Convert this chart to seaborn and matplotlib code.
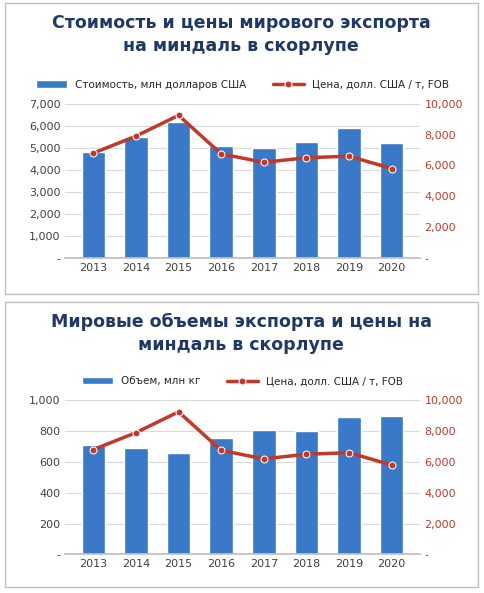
import matplotlib
matplotlib.use("Agg")
import matplotlib.pyplot as plt
import matplotlib.ticker as mticker
from matplotlib.patches import FancyBboxPatch
import seaborn as sns
import pandas as pd

years = ["2013", "2014", "2015", "2016", "2017", "2018", "2019", "2020"]
value_musd = [4800, 5500, 6150, 5100, 5000, 5250, 5900, 5200]
volume_mkg = [710, 690, 660, 755, 805, 800, 890, 895]
price_usd_t = [6800, 7900, 9250, 6750, 6200, 6500, 6600, 5800]

sns.set_theme(style="white")
plt.rcParams['font.family'] = ['DejaVu Sans']

BLUE = "#3a78c8"
RED = "#c0392b"
TITLE = "#1f3864"


def fmt(v, _):
    return "-" if v == 0 else f"{int(v):,}"


def panel(fig, rect, frame, title, bars, bar_label, ymax, ystep):
    fig.patches.append(FancyBboxPatch((frame[0], frame[1]), frame[2], frame[3],
                                      boxstyle="square,pad=0", transform=fig.transFigure,
                                      fc="white", ec="#bfbfbf", lw=1, zorder=-1))
    fig.text(frame[0] + frame[2] / 2, frame[1] + frame[3] - 0.018, title, ha="center", va="top",
             fontsize=12.5, fontweight="bold", color=TITLE, linespacing=1.35)
    ax = fig.add_axes(rect)
    df = pd.DataFrame({"year": years, "bars": bars, "price": price_usd_t})
    sns.barplot(data=df, x="year", y="bars", color=BLUE, width=0.55, ax=ax,
                label=bar_label, saturation=1)
    ax.set_ylim(0, ymax)
    ax.yaxis.set_major_locator(mticker.MultipleLocator(ystep))
    ax.yaxis.set_major_formatter(mticker.FuncFormatter(fmt))
    ax.grid(axis="y", color="#d9d9d9", lw=0.8)
    ax.set_axisbelow(True)
    ax.set_xlabel("")
    ax.set_ylabel("")
    for s in ax.spines.values():
        s.set_visible(False)
    ax.spines["bottom"].set_visible(True)
    ax.spines["bottom"].set_color("#bfbfbf")
    ax.tick_params(labelsize=8, colors="#404040", length=0)
    ax2 = ax.twinx()
    sns.lineplot(x=list(range(len(years))), y=price_usd_t, ax=ax2, color=RED, lw=2.5,
                 marker="o", markersize=5, label="Цена, долл. США / т, FOB")
    ax2.set_ylim(0, 10000)
    ax2.yaxis.set_major_locator(mticker.MultipleLocator(2000))
    ax2.yaxis.set_major_formatter(mticker.FuncFormatter(fmt))
    ax2.tick_params(labelsize=8, colors=RED, length=0)
    for s in ax2.spines.values():
        s.set_visible(False)
    ax2.get_legend().remove()
    h1, l1 = ax.get_legend_handles_labels()
    h2, l2 = ax2.get_legend_handles_labels()
    ax.legend(h1 + h2, l1 + l2, loc="lower center", bbox_to_anchor=(0.5, 1.03), ncol=2,
              frameon=False, fontsize=7.5, handlelength=3, columnspacing=2.5)


fig = plt.figure(figsize=(4.85, 5.93), dpi=100)
panel(fig, [0.135, 0.565, 0.73, 0.26], [0.01, 0.505, 0.975, 0.49],
      "Стоимость и цены мирового экспорта\nна миндаль в скорлупе",
      value_musd, "Стоимость, млн долларов США", 7000, 1000)
panel(fig, [0.135, 0.065, 0.73, 0.26], [0.01, 0.01, 0.975, 0.48],
      "Мировые объемы экспорта и цены на\nминдаль в скорлупе",
      volume_mkg, "Объем, млн кг", 1000, 200)
fig.savefig("out.png", dpi=100)
